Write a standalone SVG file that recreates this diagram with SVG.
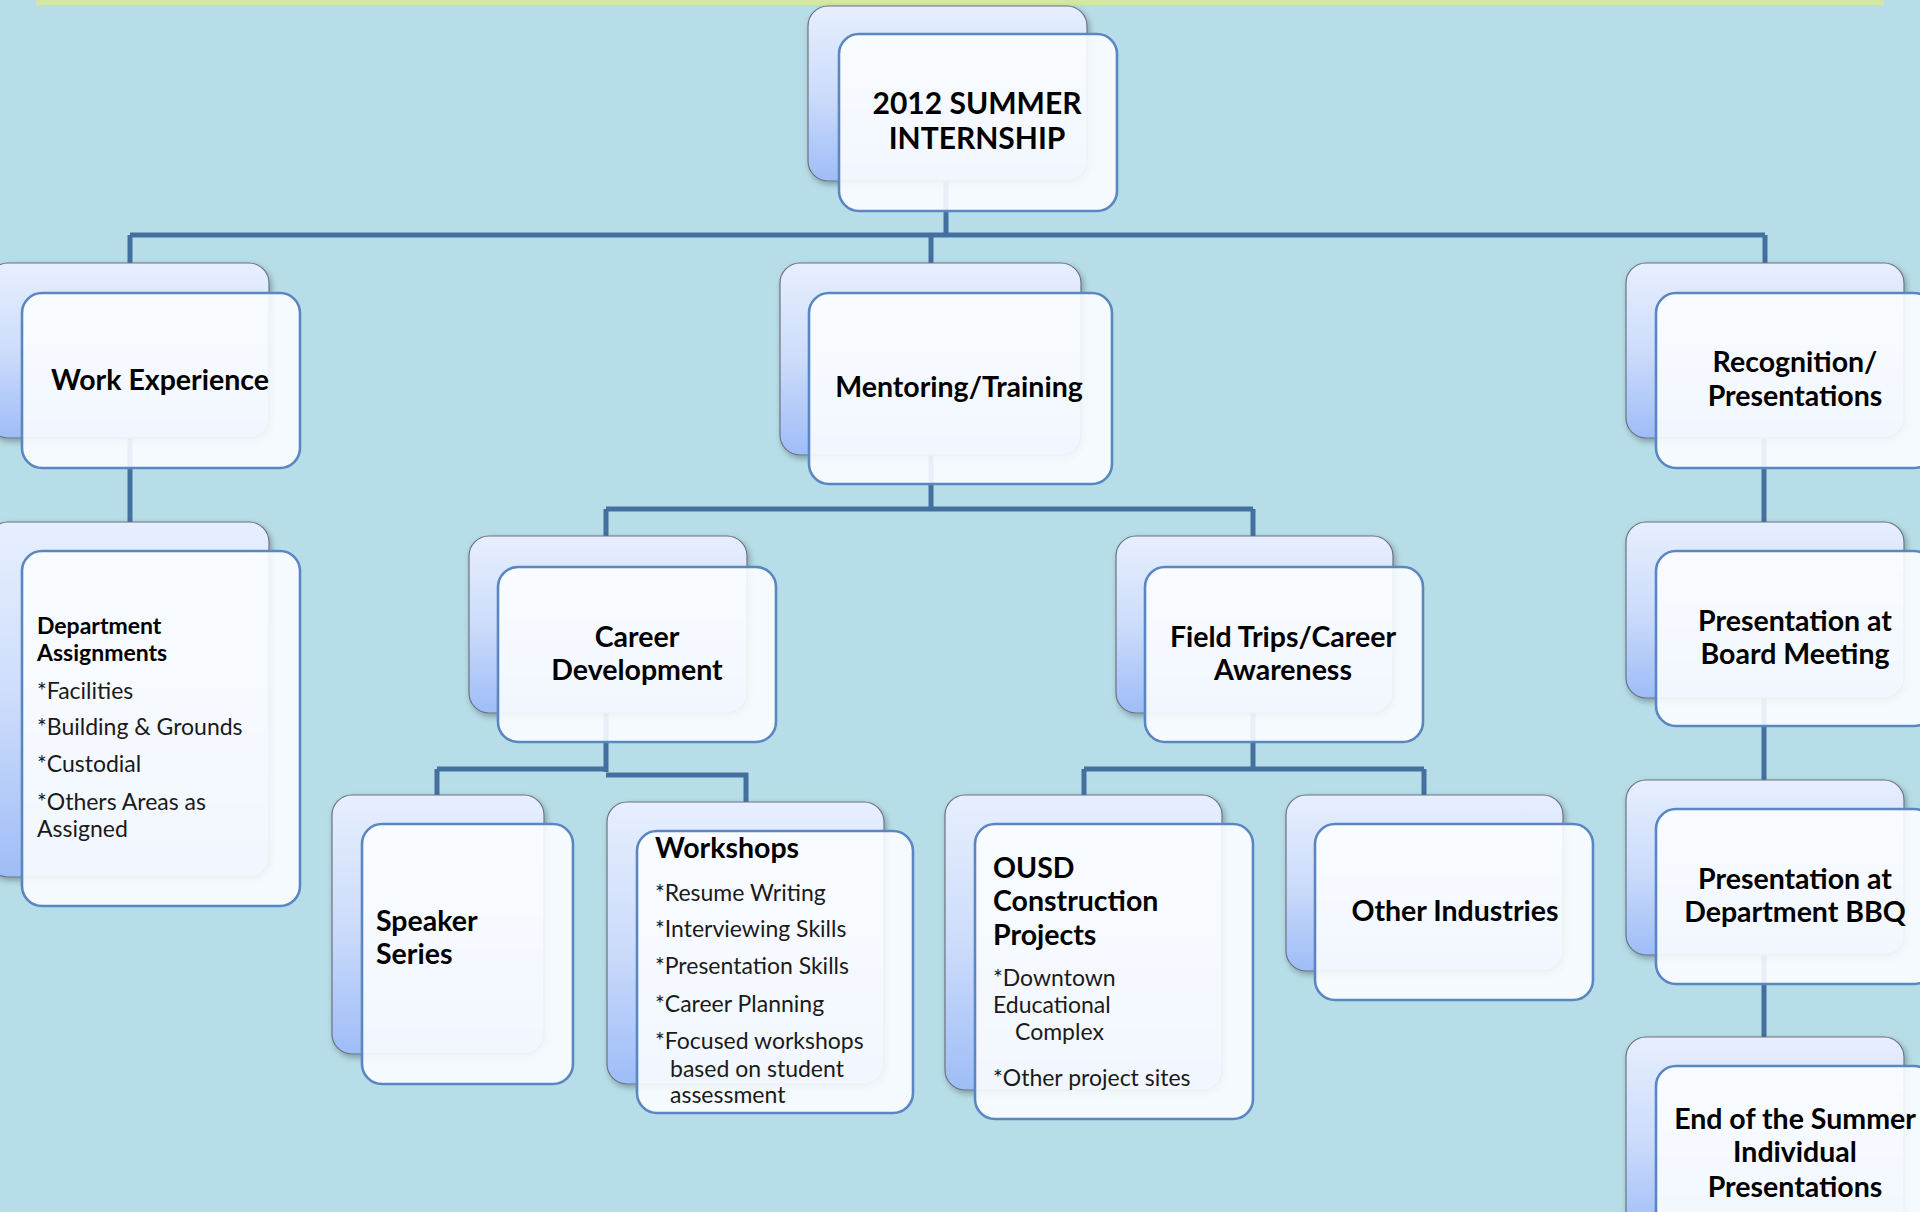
<svg xmlns="http://www.w3.org/2000/svg" width="1920" height="1212" viewBox="0 0 1920 1212">
<style>
.back{fill:url(#bg);stroke:#6b7280;stroke-width:1.2;filter:url(#sh)}
.front{fill:#fbfdff;fill-opacity:0.9;stroke:#5a86c2;stroke-width:2.6}
.conn{fill:none;stroke:#43709f;stroke-width:5;stroke-linejoin:miter}
.t{font-family:Lato,"Liberation Sans",sans-serif;font-weight:bold;font-size:28.5px;fill:#000}
.r{font-size:30px}
.h{font-family:Lato,"Liberation Sans",sans-serif;font-weight:bold;font-size:23px;fill:#000}
.s{font-family:Lato,"Liberation Sans",sans-serif;font-size:23px;fill:#1a1a1a}
.c{text-anchor:middle}
</style>
<defs>
<linearGradient id="bg" x1="0" y1="0" x2="0" y2="1">
<stop offset="0" stop-color="#e7effe"/>
<stop offset="0.5" stop-color="#cddcfb"/>
<stop offset="1" stop-color="#9ebdf7"/>
</linearGradient>
<filter id="sh" x="-10%" y="-10%" width="125%" height="125%">
<feDropShadow dx="2" dy="3" stdDeviation="3" flood-color="#000" flood-opacity="0.3"/>
</filter>
</defs>
<rect x="0" y="0" width="1920" height="1212" fill="#b7dee8"/>
<rect x="36" y="0" width="1848" height="5" fill="#d5e6a6"/>
<g id="connectors">
<path class="conn" d="M946,181 V235 M130,235 H1765 M130,235 V263 M931,235 V263 M1765,235 V263"/>
<path class="conn" d="M130,438 V522"/>
<path class="conn" d="M931,455 V509 M606,509 H1253 M606,509 V536 M1253,509 V536"/>
<path class="conn" d="M606,713 V772 M437,769 H606 M437,769 V795 M606,775 H746 V802"/>
<path class="conn" d="M1253,713 V769 M1084,769 H1424 M1084,769 V795 M1424,769 V795"/>
<path class="conn" d="M1764,438 V522 M1764,698 V780 M1764,955 V1037"/>
</g>
<g id="root">
<rect class="back" x="808" y="6" width="279" height="175" rx="20"/>
<rect class="front" x="839" y="34" width="278" height="177" rx="20"/>
<text class="t r c" x="977" y="114">2012 SUMMER</text>
<text class="t r c" x="977" y="149">INTERNSHIP</text>
</g>
<g id="work-experience">
<rect class="back" x="-12" y="263" width="281" height="175" rx="20"/>
<rect class="front" x="22" y="293" width="278" height="175" rx="20"/>
<text class="t c" x="160" y="390">Work Experience</text>
</g>
<g id="mentoring">
<rect class="back" x="780" y="263" width="301" height="192" rx="20"/>
<rect class="front" x="809" y="293" width="303" height="191" rx="20"/>
<text class="t c" x="959" y="397">Mentoring/Training</text>
</g>
<g id="recognition">
<rect class="back" x="1626" y="263" width="278" height="175" rx="20"/>
<rect class="front" x="1656" y="293" width="278" height="175" rx="20"/>
<text class="t c" x="1795" y="372">Recognition/</text>
<text class="t c" x="1795" y="406">Presentations</text>
</g>
<g id="department">
<rect class="back" x="-12" y="522" width="281" height="355" rx="20"/>
<rect class="front" x="22" y="551" width="278" height="355" rx="20"/>
<text class="h" x="37" y="634">Department</text>
<text class="h" x="37" y="661">Assignments</text>
<text class="s" x="37" y="699">*Facilities</text>
<text class="s" x="37" y="735">*Building &amp; Grounds</text>
<text class="s" x="37" y="772">*Custodial</text>
<text class="s" x="37" y="810">*Others Areas as</text>
<text class="s" x="37" y="837">Assigned</text>
</g>
<g id="career-development">
<rect class="back" x="469" y="536" width="278" height="177" rx="20"/>
<rect class="front" x="498" y="567" width="278" height="175" rx="20"/>
<text class="t c" x="637" y="647">Career</text>
<text class="t c" x="637" y="680">Development</text>
</g>
<g id="field-trips">
<rect class="back" x="1116" y="536" width="277" height="177" rx="20"/>
<rect class="front" x="1145" y="567" width="278" height="175" rx="20"/>
<text class="t c" x="1283" y="647">Field Trips/Career</text>
<text class="t c" x="1283" y="680">Awareness</text>
</g>
<g id="board-meeting">
<rect class="back" x="1626" y="522" width="278" height="176" rx="20"/>
<rect class="front" x="1656" y="551" width="278" height="175" rx="20"/>
<text class="t c" x="1795" y="631">Presentation at</text>
<text class="t c" x="1795" y="664">Board Meeting</text>
</g>
<g id="speaker-series">
<rect class="back" x="332" y="795" width="212" height="259" rx="20"/>
<rect class="front" x="362" y="824" width="211" height="260" rx="20"/>
<text class="t" x="376" y="931">Speaker</text>
<text class="t" x="376" y="964">Series</text>
</g>
<g id="workshops">
<rect class="back" x="607" y="802" width="277" height="282" rx="20"/>
<rect class="front" x="637" y="831" width="276" height="282" rx="20"/>
<text class="t" x="655" y="858">Workshops</text>
<text class="s" x="655" y="901">*Resume Writing</text>
<text class="s" x="655" y="937">*Interviewing Skills</text>
<text class="s" x="655" y="974">*Presentation Skills</text>
<text class="s" x="655" y="1012">*Career Planning</text>
<text class="s" x="655" y="1049">*Focused workshops</text>
<text class="s" x="670" y="1077">based on student</text>
<text class="s" x="670" y="1103">assessment</text>
</g>
<g id="ousd">
<rect class="back" x="945" y="795" width="277" height="295" rx="20"/>
<rect class="front" x="975" y="824" width="278" height="295" rx="20"/>
<text class="t" x="993" y="878">OUSD</text>
<text class="t" x="993" y="911">Construction</text>
<text class="t" x="993" y="945">Projects</text>
<text class="s" x="993" y="986">*Downtown</text>
<text class="s" x="993" y="1013">Educational</text>
<text class="s" x="1015" y="1040">Complex</text>
<text class="s" x="993" y="1086">*Other project sites</text>
</g>
<g id="other-industries">
<rect class="back" x="1286" y="795" width="277" height="176" rx="20"/>
<rect class="front" x="1315" y="824" width="278" height="176" rx="20"/>
<text class="t c" x="1455" y="921">Other Industries</text>
</g>
<g id="department-bbq">
<rect class="back" x="1626" y="780" width="278" height="175" rx="20"/>
<rect class="front" x="1656" y="809" width="278" height="175" rx="20"/>
<text class="t c" x="1795" y="889">Presentation at</text>
<text class="t c" x="1795" y="922">Department BBQ</text>
</g>
<g id="end-of-summer">
<rect class="back" x="1626" y="1037" width="278" height="200" rx="20"/>
<rect class="front" x="1656" y="1066" width="278" height="200" rx="20"/>
<text class="t c" x="1795" y="1129">End of the Summer</text>
<text class="t c" x="1795" y="1162">Individual</text>
<text class="t c" x="1795" y="1197">Presentations</text>
</g>
</svg>
